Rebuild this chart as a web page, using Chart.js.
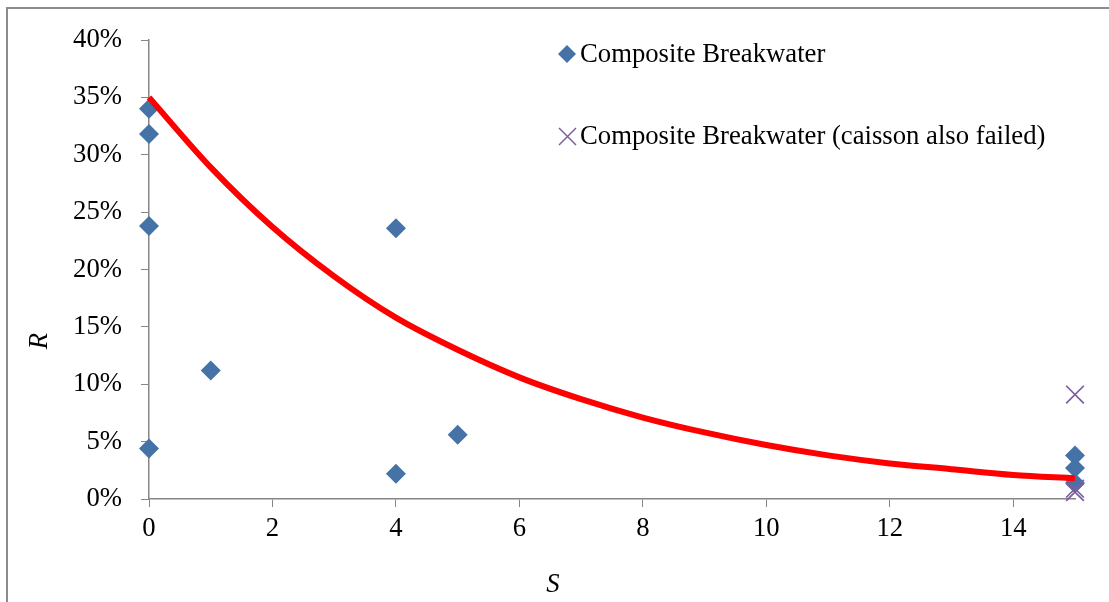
<!DOCTYPE html>
<html>
<head>
<meta charset="utf-8">
<script src="https://cdn.jsdelivr.net/npm/chart.js@4"></script>
<style>
  html, body { margin: 0; padding: 0; background: #fff; overflow: hidden; }
  #wrap { position: relative; width: 1109px; height: 602px; }
</style>
</head>
<body>
<div id="wrap"><canvas id="canvas" width="1109" height="602"></canvas></div>
<script>
// values (R in %)
const breakwaterS = [0, 0, 0, 0, 1, 4, 4, 5, 15, 15, 15];
const breakwaterR = [34.0, 31.8, 23.8, 4.4, 11.2, 23.6, 2.2, 5.6, 3.8, 2.7, 1.4];
const caissonS = [15, 15, 15];
const caissonR = [9.1, 0.9, 0.6];
const trendS = [0, 1, 2, 3, 4, 5, 6, 7, 8, 9, 10, 11, 12, 13, 14, 15];
const trendR = [35.0, 28.9, 23.7, 19.4, 15.8, 13.0, 10.6, 8.7, 7.1, 5.8, 4.7, 3.8, 3.1, 2.6, 2.1, 1.8];
const legendLabels = ["Composite Breakwater", "Composite Breakwater (caisson also failed)"];
const xTitle = "S";
const yTitle = "R";

const blue = "#4572a7";
const purple = "#7b5e9e";
const axisGrey = "#868686";
const serif = "'Liberation Serif', 'Times New Roman', serif";
const fontSize = 26.7;

function toPoints(xs, ys) {
    return xs.map((x, i) => ({ x: x, y: ys[i] }));
}

// outer frame, axis titles and legend placed by hand, like the excel one
const framePlugin = {
    id: "frame",
    beforeDraw(chart) {
        const ctx = chart.ctx;
        ctx.save();
        ctx.strokeStyle = "#8c8c8c";
        ctx.lineWidth = 2;
        ctx.strokeRect(7, 8, 1200, 700);
        ctx.restore();
    },
    afterDraw(chart) {
        const ctx = chart.ctx;
        ctx.save();
        // diamond
        ctx.fillStyle = blue;
        ctx.beginPath();
        ctx.moveTo(567, 45);
        ctx.lineTo(576, 54);
        ctx.lineTo(567, 63);
        ctx.lineTo(558, 54);
        ctx.closePath();
        ctx.fill();
        // cross
        ctx.strokeStyle = purple;
        ctx.lineWidth = 1.5;
        ctx.beginPath();
        ctx.moveTo(559, 128); ctx.lineTo(576, 145);
        ctx.moveTo(576, 128); ctx.lineTo(559, 145);
        ctx.stroke();
        ctx.fillStyle = "#000";
        ctx.font = fontSize + "px " + serif;
        ctx.textBaseline = "middle";
        ctx.fillText(legendLabels[0], 580, 55);
        ctx.fillText(legendLabels[1], 580, 137);
        // axis titles
        ctx.font = "italic " + fontSize + "px " + serif;
        ctx.textAlign = "center";
        ctx.fillText(xTitle, 553, 585);
        ctx.translate(40, 341);
        ctx.rotate(-Math.PI / 2);
        ctx.fillText(yTitle, 0, 0);
        ctx.restore();
    }
};

new Chart(document.getElementById("canvas"), {
    type: "scatter",
    data: {
        datasets: [
            {
                label: "Trend",
                data: toPoints(trendS, trendR),
                showLine: true,
                borderColor: "#ff0000",
                borderWidth: 6,
                pointRadius: 0,
                cubicInterpolationMode: "monotone",
                clip: false,
                order: 0
            },
            {
                label: legendLabels[0],
                data: toPoints(breakwaterS, breakwaterR),
                pointStyle: "rectRot",
                pointRadius: 10,
                backgroundColor: blue,
                borderColor: blue,
                borderWidth: 0,
                clip: false,
                order: 2
            },
            {
                label: legendLabels[1],
                data: toPoints(caissonS, caissonR),
                pointStyle: "crossRot",
                pointRadius: 12.5,
                borderColor: purple,
                borderWidth: 1.7,
                clip: false,
                order: 1
            }
        ]
    },
    options: {
        responsive: false,
        animation: false,
        layout: { padding: { left: 0, top: 40, right: 34, bottom: 0 } },
        plugins: { legend: { display: false }, tooltip: { enabled: false } },
        scales: {
            x: {
                type: "linear",
                min: 0,
                max: 15,
                afterFit: (scale) => { scale.height = 103; },
                afterBuildTicks: (scale) => { scale.ticks = scale.ticks.filter(t => t.value % 2 === 0); },
                ticks: { stepSize: 2, color: "#000", padding: 6, font: { family: serif, size: fontSize } },
                grid: { drawOnChartArea: false, tickLength: 8, color: axisGrey },
                border: { color: axisGrey, width: 1.5 }
            },
            y: {
                type: "linear",
                min: 0,
                max: 40,
                afterFit: (scale) => { scale.width = 149; },
                ticks: {
                    stepSize: 5,
                    color: "#000",
                    padding: 19,
                    font: { family: serif, size: fontSize },
                    callback: (v) => v + "%"
                },
                grid: { drawOnChartArea: false, tickLength: 8, color: axisGrey },
                border: { color: axisGrey, width: 1.5 }
            }
        }
    },
    plugins: [framePlugin]
});
</script>
</body>
</html>
